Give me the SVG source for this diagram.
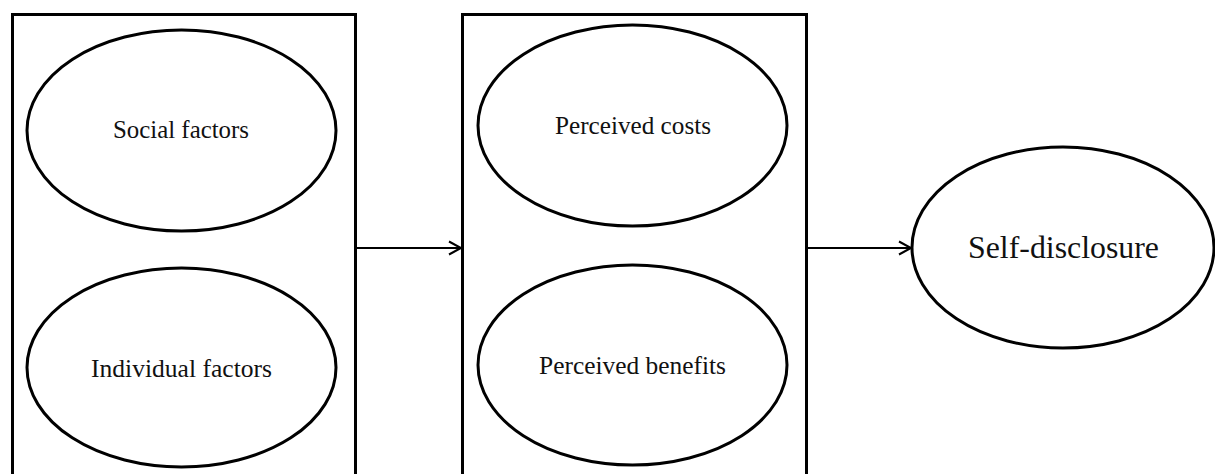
<svg xmlns="http://www.w3.org/2000/svg" width="1215" height="474" viewBox="0 0 1215 474">
<style>
.box{fill:none;stroke:#000;stroke-width:3}
.ell{fill:#fff;stroke:#000;stroke-width:3}
.lbl{font-family:"Liberation Serif","Times New Roman",serif;font-size:24.5px;fill:#111;text-anchor:middle}
.big{font-size:31.5px}
.con{fill:none;stroke:#000;stroke-width:2}
</style>
<rect width="1215" height="474" fill="#fff"/>
<g id="group-antecedents">
<rect class="box" x="12.5" y="14.5" width="343" height="470"/>
</g>
<g id="group-calculus">
<rect class="box" x="462.5" y="14.5" width="344" height="470"/>
</g>
<g id="social-factors">
<ellipse class="ell" cx="181.5" cy="130.5" rx="154.5" ry="100.5"/>
<text class="lbl" x="181" y="138" textLength="136" lengthAdjust="spacingAndGlyphs">Social factors</text>
</g>
<g id="individual-factors">
<ellipse class="ell" cx="181.5" cy="367.5" rx="154.5" ry="99.5"/>
<text class="lbl" x="181.5" y="377" textLength="181" lengthAdjust="spacingAndGlyphs">Individual factors</text>
</g>
<g id="perceived-costs">
<ellipse class="ell" cx="632.5" cy="125.5" rx="154.5" ry="100.5"/>
<text class="lbl" x="633" y="134" textLength="156" lengthAdjust="spacingAndGlyphs">Perceived costs</text>
</g>
<g id="perceived-benefits">
<ellipse class="ell" cx="632.5" cy="365" rx="154.5" ry="100"/>
<text class="lbl" x="632.5" y="374" textLength="187" lengthAdjust="spacingAndGlyphs">Perceived benefits</text>
</g>
<g id="self-disclosure">
<ellipse class="ell" cx="1063" cy="247.5" rx="151" ry="100.5"/>
<text class="lbl big" x="1063.5" y="258" textLength="191" lengthAdjust="spacingAndGlyphs">Self-disclosure</text>
</g>
<g id="connectors">
<path class="con" d="M357 248 H461"/>
<path class="con" d="M449 241.5 L461 248 L449 254.5"/>
<path class="con" d="M808 248 H911"/>
<path class="con" d="M899 241.5 L911 248 L899 254.5"/>
</g>
</svg>
